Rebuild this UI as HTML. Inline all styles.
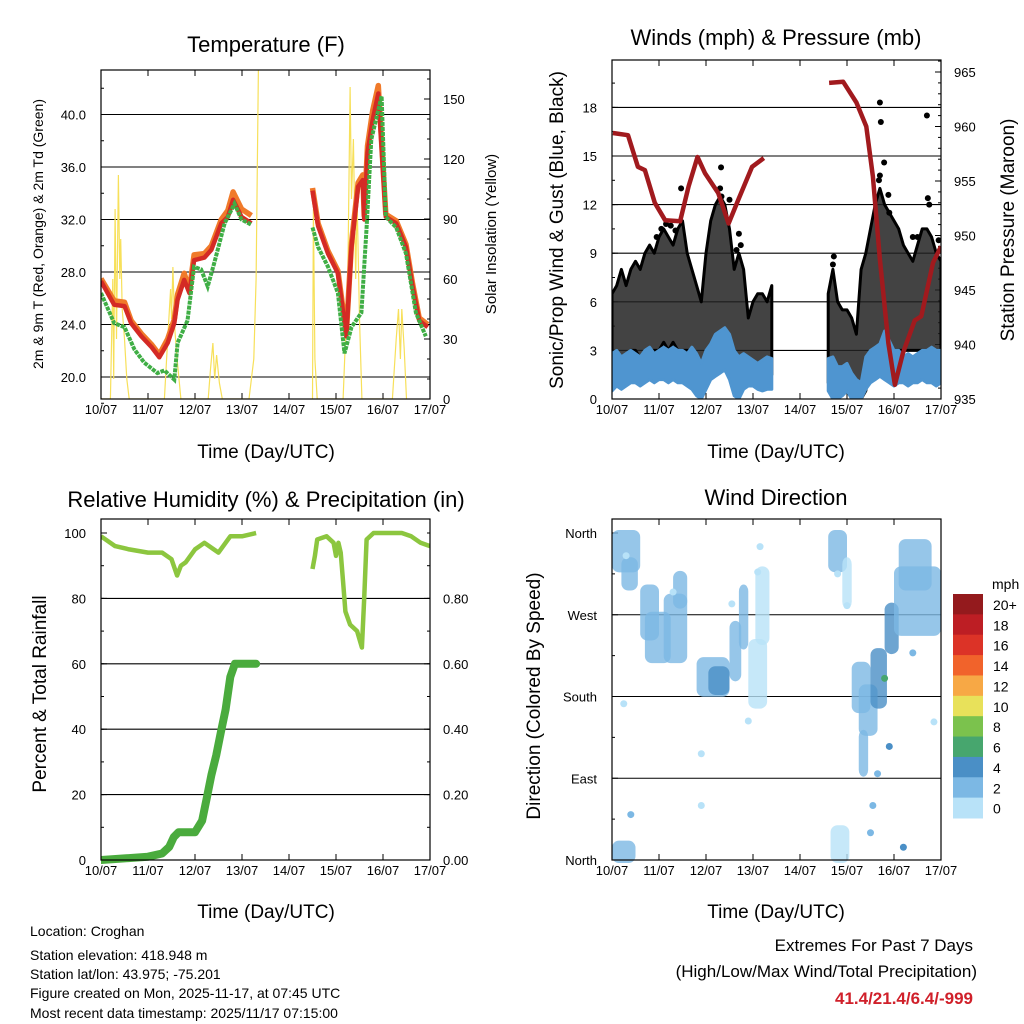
<!DOCTYPE html>
<html><head><meta charset="utf-8"><style>
html,body{margin:0;padding:0;background:#fff}
svg{display:block;font-family:"Liberation Sans",sans-serif}
</style></head><body>
<svg id="s" width="1024" height="1024" viewBox="0 0 1024 1024" xmlns="http://www.w3.org/2000/svg">
<rect width="1024" height="1024" fill="#fff"/>
<text x="266" y="52" font-size="22" text-anchor="middle">Temperature (F)</text>
<text x="776" y="45" font-size="22" text-anchor="middle">Winds (mph) &amp; Pressure (mb)</text>
<text x="266" y="507" font-size="22" text-anchor="middle">Relative Humidity (%) &amp; Precipitation (in)</text>
<text x="776" y="505" font-size="22" text-anchor="middle">Wind Direction</text>
<text x="266" y="458" font-size="19" text-anchor="middle">Time (Day/UTC)</text>
<text x="776" y="458" font-size="19" text-anchor="middle">Time (Day/UTC)</text>
<text x="266" y="918" font-size="19" text-anchor="middle">Time (Day/UTC)</text>
<text x="776" y="918" font-size="19" text-anchor="middle">Time (Day/UTC)</text>
<text transform="translate(43,234) rotate(-90)" font-size="14" text-anchor="middle">2m &amp; 9m T (Red, Orange) &amp; 2m Td (Green)</text>
<text transform="translate(496,234) rotate(-90)" font-size="15" text-anchor="middle">Solar Insolation (Yellow)</text>
<text transform="translate(563,230) rotate(-90)" font-size="19" text-anchor="middle">Sonic/Prop Wind &amp; Gust (Blue, Black)</text>
<text transform="translate(1014,230) rotate(-90)" font-size="19" text-anchor="middle">Station Pressure (Maroon)</text>
<text transform="translate(46,694) rotate(-90)" font-size="19" text-anchor="middle">Percent &amp; Total Rainfall</text>
<text transform="translate(540,696) rotate(-90)" font-size="19" text-anchor="middle">Direction (Colored By Speed)</text>
<g font-size="14">
<text x="30" y="936">Location: Croghan</text>
<text x="30" y="960">Station elevation: 418.948 m</text>
<text x="30" y="979">Station lat/lon: 43.975; -75.201</text>
<text x="30" y="998">Figure created on Mon, 2025-11-17, at 07:45 UTC</text>
<text x="30" y="1018">Most recent data timestamp: 2025/11/17 07:15:00</text>
</g>
<g font-size="17" text-anchor="end">
<text x="973" y="951">Extremes For Past 7 Days</text>
<text x="977" y="977">(High/Low/Max Wind/Total Precipitation)</text>
<text x="973" y="1004" fill="#d0202a" font-weight="bold">41.4/21.4/6.4/-999</text>
</g>
<g id="g"></g>
</svg>
<script>
const days=["10/07","11/07","12/07","13/07","14/07","15/07","16/07","17/07"];
// Temperature
const tRed=[0,0.28,0.5,0.64,0.86,1.07,1.24,1.42,1.56,1.63,1.77,1.88,1.98,2.2,2.35,2.56,2.7,2.81,2.99,3.2,null,4.5,4.62,4.83,5.04,5.22,5.33,5.47,5.57,5.6,5.67,5.78,5.9,6.06,6.28,6.49,6.63,6.77,6.95];
const red=[27.3,25.5,25.4,24.1,23.1,22.3,21.5,22.6,24.1,25.9,27.4,26.4,28.9,29.1,29.7,31.7,32.2,33.5,32.2,31.7,null,34.2,31.5,29.4,27.9,23.1,29.9,34.5,35.0,32,37.1,39.6,41.6,32.2,31.7,29.9,26.9,24.3,23.8];
const orange=[27.5,25.8,25.7,24.3,23.3,22.5,21.7,22.9,24.4,26.3,27.9,26.6,29.3,29.4,30.0,32.0,32.7,34.1,32.8,32.3,null,34.4,31.7,29.6,28.1,23.3,30.2,34.8,35.4,32.3,37.6,40.3,42.2,32.4,31.9,30.1,27.1,24.5,24.0];
const tGreen=[0,0.28,0.5,0.71,0.92,1.2,1.35,1.56,1.63,1.84,1.98,2.13,2.27,2.41,2.63,2.84,2.99,3.2,null,4.5,4.62,4.83,5.04,5.18,5.33,5.54,5.65,5.75,5.97,6.06,6.28,6.49,6.7,6.91];
const green=[26.4,24.1,23.8,22.1,21.1,20.3,20.5,19.8,22.6,24.3,28.4,28.2,26.9,28.7,31.7,33.2,32,31.6,null,31.4,29.9,28.4,26.4,21.8,23.8,24.9,31.4,38.1,41.4,32.2,31.4,29.4,24.9,23.1];
const tSolar=[0,0.2,0.25,0.27,0.3,0.33,0.37,0.4,0.42,0.45,0.5,0.55,0.6,1.35,1.42,1.48,1.5,1.53,1.57,1.62,1.7,2.28,2.33,2.38,2.42,2.46,2.52,2.58,3.15,3.25,3.3,3.35,3.4,null,4.5,4.52,4.55,4.6,5.15,5.25,5.3,5.33,5.37,5.42,5.45,5.5,5.55,6.2,6.28,6.33,6.37,6.4,6.45,6.5];
const solar=[0,0,60,10,95,30,112,60,80,45,30,10,0,0,30,55,40,66,35,20,0,0,15,28,10,22,8,0,0,20,60,170,175,null,0,95,20,0,0,60,156,100,130,60,100,40,0,0,30,45,20,45,25,0];
// Winds
const tW1=[0,0.1,0.2,0.3,0.4,0.5,0.6,0.7,0.8,0.9,1.0,1.1,1.2,1.3,1.4,1.5,1.6,1.7,1.8,1.9,2.0,2.1,2.2,2.3,2.4,2.5,2.6,2.7,2.8,2.9,3.0,3.1,3.2,3.3,3.4];
const bHi1=[2.8,3.0,2.6,2.8,3.0,2.8,2.6,3.0,3.2,2.8,3.0,3.2,3.0,3.2,3.0,3.0,2.8,3.2,2.8,2.2,3.0,3.4,4.0,4.2,4.4,4.0,3.0,2.6,2.8,2.6,2.4,2.2,2.4,2.6,2.5];
const bLo1=[0.5,0.8,0.6,0.8,1.0,1.0,0.8,1.0,1.2,1.0,1.2,1.2,1.0,1.2,1.0,1.0,0.8,0.6,0.2,0.0,0.6,1.2,1.4,1.6,1.8,1.2,0.2,0.0,0.6,0.8,0.8,0.6,0.5,0.6,0.6];
const gLo1=[1.5,2.5,2.5,2.5,3,3,2.5,3,3,3,3,3.5,3,3.5,3,3,3,3,2,0.5,2,3,4,4,4,3,1,1,2,1.5,1.5,1,1,1.2,1.5];
const gHi1=[6.5,7,8,7,8,8.5,8,9,9.5,9,10,10.5,10,9.5,10.5,11,9,8,7,6,9,11,12,12.5,12,10.5,8,9,8,5,6,6.5,6.5,6,7];
const tW2=[4.6,4.7,4.8,4.9,5.0,5.1,5.2,5.3,5.4,5.5,5.6,5.7,5.8,5.9,6.0,6.1,6.2,6.3,6.4,6.5,6.6,6.7,6.8,6.9,7.0];
const bHi2=[2.5,2.6,2.0,2.0,2.2,1.6,1.2,1.0,2.6,3.0,3.2,3.4,4.2,3.6,3.0,3.0,2.6,2.8,2.6,2.8,3.0,3.0,3.2,3.0,3.0];
const bLo2=[0.5,0,0,0.2,0.5,0,0,0,0.6,1.0,1.2,1.4,1.2,1.0,0.8,1.0,1.0,0.8,1.0,1.0,1.2,1.0,1.0,0.8,1.0];
const gLo2=[1,1.5,0.5,1,1.5,1,0.5,0,0.5,2,3,3,3.5,3,3,3,3,3,3,3,3,3,3,3,3];
const gHi2=[6.5,8,6,5.5,5.5,5,4,8,9,10.5,12,13,12,11.5,11,10.5,9.5,9,8.5,9.5,10.5,10.5,10,9,8.5];
const gustT=[5.7,5.72,6.7,5.79,5.7,5.68,2.32,1.47,2.5,2.3,2.33,5.88,5.9,6.75,6.72,1.05,1.35,1.25,0.95,1.15,2.7,2.65,2.74,4.72,4.7,6.95,6.5,6.4];
const gustV=[18.3,17.1,17.5,14.6,13.8,13.5,14.3,13.0,12.3,13.0,12.5,12.6,11.5,12.0,12.4,10.5,10.4,10.7,10.0,10.8,10.2,9.2,9.5,8.8,8.3,9.8,10,10];
const tPres=[0.02,0.34,0.55,0.7,0.91,1.13,1.45,1.63,1.82,1.98,2.26,2.48,2.69,2.98,3.23,null,4.62,4.92,5.2,5.41,5.55,5.7,5.88,6.02,6.19,6.44,6.58,6.83,7.0];
const pres=[959.4,959.2,956.3,956,953,951.4,951.3,954.5,957.2,955.7,953.9,951.1,953.3,956.3,957.1,null,964,964.1,962.2,960,955.4,947.8,940.1,936.3,939.2,942.2,942.6,947.5,949];
// RH & precip
const tRH=[0,0.3,0.6,1.0,1.3,1.5,1.62,1.7,1.8,2.0,2.2,2.4,2.5,2.75,3.0,3.3,null,4.5,4.55,4.6,4.8,4.95,5.0,5.05,5.1,5.15,5.2,5.3,5.45,5.55,5.6,5.65,5.8,6.0,6.4,6.6,6.8,7.0];
const rh=[99,96,95,94,94,92,87,90,91,95,97,95,94,99,99,100,null,89,93,98,99,97,93,97,94,85,76,72,70,65,80,98,100,100,100,99,97,96];
const tPr=[0,0.5,1.0,1.3,1.45,1.55,1.65,2.0,2.15,2.25,2.35,2.45,2.55,2.65,2.75,2.85,3.0,3.3];
const precip=[0,0.005,0.01,0.02,0.04,0.07,0.085,0.085,0.12,0.19,0.26,0.32,0.39,0.46,0.56,0.6,0.6,0.6];
// Wind direction clusters
const wdT0=[0,0.2,0.6,0.7,1.1,1.3,1.8,2.05,2.5,2.7,2.9,3.05,0,4.6,4.9,4.65,5.1,5.25,5.5,5.8,6.0,6.1,5.25];
const wdT1=[0.6,0.55,1.0,1.25,1.6,1.6,2.5,2.5,2.75,2.9,3.3,3.35,0.5,5.0,5.1,5.05,5.5,5.65,5.85,6.1,7.0,6.8,5.45];
const wdD0=[320,300,245,220,220,280,183,185,200,235,170,240,0,320,280,0,165,140,170,230,250,300,95];
const wdD1=[360,330,300,270,290,315,220,210,260,300,240,320,18,360,330,35,215,190,230,280,320,350,140];
const wdC=[1,1,1,1,1,1,1,2,1,1,0,0,1,1,0,0,1,1,2,2,1,1,1];
const wdPtT=[0.25,1.3,1.9,1.9,2.55,2.9,3.1,3.15,0.3,0.4,4.8,5.0,5.5,5.55,5.65,5.9,6.85,6.4,6.2,5.8];
const wdPtD=[172,295,117,60,282,153,317,345,335,50,315,280,30,60,95,125,152,228,14,200];
const wdPtC=[0,0,0,0,0,0,0,0,0,1,0,0,1,1,1,2,0,1,2,3];
const speedLabels=["20+","18","16","14","12","10","8","6","4","2","0"];
const speedColors=["#941a1d","#bd1e24","#dc3327","#f1632b","#f7a845","#e8e15a","#7bc24d","#47a66e","#4a8fc6","#7cb8e4","#b8e2f8"];
const wdColors=["#b8e2f8","#7cb8e4","#4a8fc6","#47a66e"];

const NS="http://www.w3.org/2000/svg";
const G=document.getElementById("g");
function mk(tag,attrs,parent){const e=document.createElementNS(NS,tag);for(const k in attrs)e.setAttribute(k,attrs[k]);(parent||G).appendChild(e);return e;}
function txt(x,y,s,anchor,size,name){const e=mk("text",{x:x,y:y,"font-size":size||13,"text-anchor":anchor||"middle"});e.textContent=s;


return e;}
function pathFrom(ts,vs,fx,fy){let d="",pen=false;for(let i=0;i<ts.length;i++){if(ts[i]===null||vs[i]===null){pen=false;continue;}d+=(pen?"L":"M")+fx(ts[i]).toFixed(1)+","+fy(vs[i]).toFixed(1);pen=true;}return d;}
function bandFrom(ts,lo,hi,fx,fy){let d="M";for(let i=0;i<ts.length;i++)d+=(i?"L":"")+fx(ts[i]).toFixed(1)+","+fy(hi[i]).toFixed(1);for(let i=ts.length-1;i>=0;i--)d+="L"+fx(ts[i]).toFixed(1)+","+fy(lo[i]).toFixed(1);return d+"Z";}

function frame(x0,y0,x1,y1,name,xlabY){
  const fx=t=>x0+t*(x1-x0)/7;
  const g=mk("g",{});
  
  
  for(let i=0;i<=7;i++){const x=fx(i);
    mk("line",{x1:x,y1:y1,x2:x,y2:y1-6,stroke:"#000","stroke-width":1},g);
    mk("line",{x1:x,y1:y0,x2:x,y2:y0+6,stroke:"#000","stroke-width":1},g);
    const t=txt(x,xlabY,days[i],"middle",13,"x-tick-label");g.appendChild(t);}
  return fx;
}
function yaxis(x0,x1,y0,y1,ticks,labels,minors,fy,side,grid,name,gridVals){
  const g=mk("g",{});
  
  
  minors.forEach(v=>{const y=fy(v);if(side==="l")mk("line",{x1:x0,y1:y,x2:x0+3,y2:y,stroke:"#000"},g);else mk("line",{x1:x1,y1:y,x2:x1-3,y2:y,stroke:"#000"},g);});
  ticks.forEach((v,i)=>{const y=fy(v);
    if(grid&&(!gridVals||gridVals.includes(v)))mk("line",{x1:x0,y1:y,x2:x1,y2:y,stroke:"#000","stroke-width":1.1},g);
    if(side==="l"){mk("line",{x1:x0,y1:y,x2:x0+6,y2:y,stroke:"#000"},g);g.appendChild(txt(x0-15,y+5,labels[i],"end",13,"y-tick-label"));}
    else{mk("line",{x1:x1,y1:y,x2:x1-6,y2:y,stroke:"#000"},g);g.appendChild(txt(x1+13,y+5,labels[i],"start",13,"y-tick-label"));}
  });
}
function box(x0,y0,x1,y1,name){const r=mk("rect",{x:x0,y:y0,width:x1-x0,height:y1-y0,fill:"none",stroke:"#000","stroke-width":1.2});

}
function clip(id,x0,y0,x1,y1){const c=mk("clipPath",{id:id});mk("rect",{x:x0,y:y0,width:x1-x0,height:y1-y0},c);}
function rng(a,b,s){const r=[];for(let v=a;v<=b+1e-9;v+=s)r.push(+v.toFixed(3));return r;}

// ---------- Panel 1: Temperature ----------
(function(){
  const x0=101,x1=430,y0=70,y1=399;
  const fx=frame(x0,y0,x1,y1,"temp",414);
  const fy=v=>377-(v-20)*13.125, fs=v=>399-v*2;
  clip("c1",x0,y0,x1,y1);
  yaxis(x0,x1,y0,y1,[20,24,28,32,36,40],["20.0","24.0","28.0","32.0","36.0","40.0"],rng(18,42,2),fy,"l",true,"temp-left-axis");
  yaxis(x0,x1,y0,y1,[0,30,60,90,120,150],["0","30","60","90","120","150"],rng(0,160,10),fs,"r",false,"solar-right-axis");
  const g=mk("g",{"clip-path":"url(#c1)"});
  const s=mk("path",{d:pathFrom(tSolar,solar,fx,fs),fill:"none",stroke:"#f7e05a","stroke-width":1.2},g);
  
  
  const o=mk("path",{d:pathFrom(tRed,orange,fx,fy),fill:"none",stroke:"#f07a2a","stroke-width":5.5,"stroke-linejoin":"round"},g);
  
  
  const r=mk("path",{d:pathFrom(tRed,red,fx,fy),fill:"none",stroke:"#d42a25","stroke-width":4.5,"stroke-linejoin":"round"},g);
  
  
  const gr=mk("path",{d:pathFrom(tGreen,green,fx,fy),fill:"none",stroke:"#3fae45","stroke-width":4,"stroke-dasharray":"4 1"},g);
  
  
  box(x0,y0,x1,y1,"temp-plot-area");
})();

// ---------- Panel 2: Winds ----------
(function(){
  const x0=612,x1=941,y0=60,y1=399;
  const fx=frame(x0,y0,x1,y1,"winds",414);
  const fy=v=>399-v*16.2, fp=v=>399-(v-935)*10.9;
  clip("c2",x0,y0,x1,y1);
  yaxis(x0,x1,y0,y1,[0,3,6,9,12,15,18],["0","3","6","9","12","15","18"],rng(0,19.5,1.5),fy,"l",true,"wind-left-axis");
  yaxis(x0,x1,y0,y1,[935,940,945,950,955,960,965],["935","940","945","950","955","960","965"],rng(935,966,1),fp,"r",false,"pressure-right-axis");
  const g=mk("g",{"clip-path":"url(#c2)"});
  [[tW1,gLo1,gHi1],[tW2,gLo2,gHi2]].forEach(a=>{const p=mk("path",{d:bandFrom(a[0],a[1],a[2],fx,fy),fill:"#222","fill-opacity":0.85,stroke:"#000","stroke-width":3,"stroke-linejoin":"round"},g);
    
    });
  gustT.forEach((t,i)=>{const c=mk("circle",{cx:fx(t),cy:fy(gustV[i]),r:3,fill:"#000"},g);
    
    });
  [[tW1,bLo1,bHi1],[tW2,bLo2,bHi2]].forEach(a=>{const p=mk("path",{d:bandFrom(a[0],a[1],a[2],fx,fy),fill:"#4f95d0",stroke:"#4f95d0","stroke-width":3,"stroke-linejoin":"round"},g);
    
    });
  const pr=mk("path",{d:pathFrom(tPres,pres,fx,fp),fill:"none",stroke:"#a11a1e","stroke-width":4.5,"stroke-linejoin":"round"},g);
  
  
  box(x0,y0,x1,y1,"winds-plot-area");
})();

// ---------- Panel 3: RH & precipitation ----------
(function(){
  const x0=101,x1=430,y0=519,y1=860;
  const fx=frame(x0,y0,x1,y1,"rh",875);
  const fy=v=>860-v*3.27, fr=v=>860-v*327;
  clip("c3",x0,y0-4,x1,y1+4);
  yaxis(x0,x1,y0,y1,[0,20,40,60,80,100],["0","20","40","60","80","100"],rng(0,100,10),fy,"l",true,"rh-left-axis",[20,40,60,80]);
  yaxis(x0,x1,y0,y1,[0,0.2,0.4,0.6,0.8],["0.00","0.20","0.40","0.60","0.80"],rng(0,1,0.1),fr,"r",false,"precip-right-axis");
  const g=mk("g",{"clip-path":"url(#c3)"});
  const h=mk("path",{d:pathFrom(tRH,rh,fx,fy),fill:"none",stroke:"#8cc63f","stroke-width":4.5,"stroke-linejoin":"round"},g);
  
  
  const p=mk("path",{d:pathFrom(tPr,precip,fx,fr),fill:"none",stroke:"#4aab3d","stroke-width":8,"stroke-linejoin":"round","stroke-linecap":"round"},g);
  
  
  box(x0,y0,x1,y1,"rh-plot-area");
})();

// ---------- Panel 4: Wind direction ----------
(function(){
  const x0=612,x1=941,y0=519,y1=860;
  const fx=frame(x0,y0,x1,y1,"wd",875);
  const fy=v=>860-v*327/360;
  clip("c4",x0,y0,x1,y1+4);
  yaxis(x0,x1,y0,y1,[0,90,180,270,360],["North","East","South","West","North"],[45,135,225,315],fy,"l",true,"direction-left-axis",[90,180,270]);
  const g=mk("g",{"clip-path":"url(#c4)"});
  wdT0.forEach((t,i)=>{const xa=fx(t),xb=fx(wdT1[i]),ya=fy(wdD1[i]),yb=fy(wdD0[i]);
    const r=mk("rect",{x:xa,y:ya-3,width:xb-xa,height:yb-ya+6,rx:7,fill:wdColors[wdC[i]],opacity:0.8},g);
    
    });
  wdPtT.forEach((t,i)=>{const c=mk("circle",{cx:fx(t),cy:fy(wdPtD[i]),r:3.5,fill:wdColors[wdPtC[i]]},g);
    
    });
  box(x0,y0,x1,y1,"wd-plot-area");
  const cb=mk("g",{});
  
  
  cb.appendChild(txt(992,589,"mph","start",14,"colorbar-unit"));
  speedLabels.forEach((l,i)=>{const y=594+i*224/11;
    const r=mk("rect",{x:953,y:y,width:30,height:224/11+0.5,fill:speedColors[i]},cb);
    
    
    cb.appendChild(txt(993,y+16,l,"start",14,"colorbar-label"));});
})();
</script>
</body></html>
